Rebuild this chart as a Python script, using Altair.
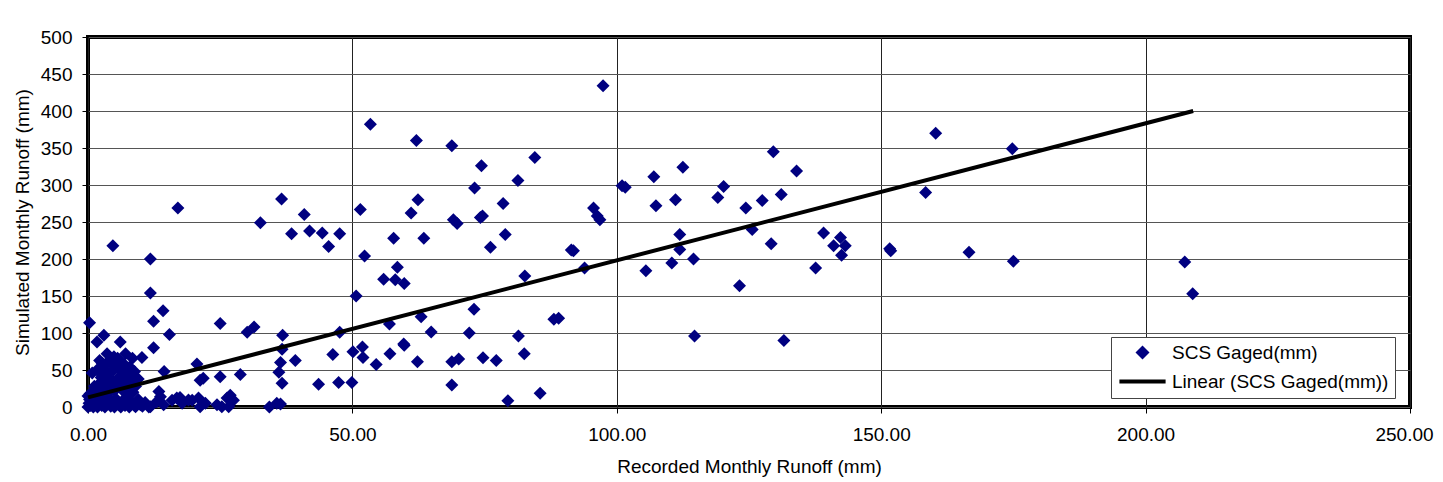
import altair as alt
import pandas as pd

# ---- data ----
rec_runoff = [
    0.0, 0.2, 0.3, 0.5, 0.8, 1.0, 1.2, 1.5, 1.8, 2.0, 2.3, 2.6, 3.0, 3.2, 3.6, 4.0, 4.3, 4.7, 5.0, 5.4,
    5.8, 6.2, 6.5, 7.0, 7.4, 7.8, 8.3, 8.8, 9.5, 10.3, 10.8, 11.5, 0.0, 0.4, 1.0, 1.6,
    1.2, 1.8, 2.2, 2.5, 2.9, 3.3, 3.5, 3.8, 4.2, 4.4, 4.8, 5.0, 5.5, 5.8, 6.0, 6.3, 6.6, 6.9, 7.2, 7.6,
    8.0, 8.5, 9.0, 2.2, 3.9, 4.5, 5.6, 6.8, 7.9, 3.0, 8.8, 9.5,
    0.3, 3.0, 1.7, 6.1, 4.7, 3.6, 2.7, 4.9, 7.1, 8.4, 1.7, 5.2, 7.4, 4.0, 6.5, 8.4, 2.7, 5.2, 7.7, 0.8, 0.5,
    10.2, 11.8, 11.8, 12.4, 14.2, 12.4, 15.4, 17.0, 14.4, 13.4, 15.9,
    9.0, 9.9, 11.8, 13.0, 14.3, 13.7, 16.8, 17.8, 19.7, 20.9, 21.2, 22.2, 24.4, 25.3, 26.3, 26.9, 27.5,
    26.6, 19.0, 17.4,
    20.6, 21.2, 21.8, 25.0, 28.8, 25.0, 30.1, 31.4, 34.3, 35.7,
    32.6, 36.6, 38.5, 40.9, 41.9, 44.3, 45.5, 47.6,
    36.8, 36.7, 36.4, 36.1, 36.7, 39.2, 43.6, 46.3, 47.6, 47.4, 49.9, 50.7, 51.5, 52.3, 53.4, 50.1, 51.9,
    52.0, 54.5, 55.9, 57.0, 57.1, 57.8, 58.5, 58.1, 59.8, 59.7, 36.4,
    97.4, 62.1, 68.8, 129.6, 112.5, 134.0, 74.4, 84.5, 107.0, 81.3, 73.1, 101.0, 101.6, 120.2, 119.1,
    62.4, 111.1, 127.5, 131.1, 107.4, 78.5, 124.4, 61.1, 95.6, 96.8, 96.3, 69.1, 69.8, 74.2, 74.6,
    63.5, 78.9, 76.1, 91.4, 91.8, 125.6, 111.9, 139.1, 142.3, 141.0, 143.2, 142.5, 151.6, 151.8,
    129.2, 111.9, 114.5, 93.9, 110.4, 105.5, 137.6, 123.2, 82.6, 73.0, 63.0, 64.9, 72.1, 81.4, 88.1,
    89.0, 114.7, 131.6, 59.8, 62.3, 68.8, 70.1, 74.7, 77.2, 82.5, 68.8, 85.5, 79.4,
    160.3, 174.8, 158.4, 166.6, 175.0, 207.4, 208.9,
]
sim_runoff = [
    0, 5, 10, 2, 8, 0, 12, 4, 0, 7, 14, 2, 9, 0, 5, 12, 1, 7, 0, 10,
    3, 0, 8, 2, 12, 0, 6, 2, 10, 1, 6, 0, 15, 18, 20, 17,
    28, 24, 32, 40, 22, 30, 44, 20, 26, 36, 50, 22, 38, 28, 60, 48, 30, 20, 40, 25,
    36, 20, 28, 63, 62, 58, 66, 58, 54, 52, 48, 38,
    114, 97, 88, 88, 218, 72, 59, 68, 72, 66, 50, 54, 52, 39, 43, 43, 34, 30, 32, 46, 14,
    67, 200, 154, 116, 130, 80, 98, 269, 48, 21, 9,
    0.4, 3, 0.4, 7, 3, 14, 12, 5, 9, 12, 0.4, 5, 3, 0.4, 12, 16, 9,
    0.4, 9.4, 13,
    58, 36, 39, 41, 44, 113, 101, 108, 0, 5,
    249, 281, 234, 260, 238, 235, 217, 234,
    97, 78, 60, 47, 32, 63, 30.6, 71, 101, 33, 33, 150, 267, 204, 382, 74.5, 81,
    67, 57.5, 172.5, 112, 72, 228, 189, 172, 167, 85, 4,
    434, 360, 353, 345, 324, 319, 326, 337, 311, 306, 296, 299, 297, 298, 283,
    280, 280, 279, 287, 272, 275, 269, 262, 269, 253, 258, 253, 248, 256, 258,
    228, 233, 216, 212, 211, 240, 233, 235, 229, 218, 218, 205, 214, 211,
    220.6, 213, 200, 188, 194.5, 184, 188, 164, 177, 132, 122, 101.5, 100, 96, 118.6,
    120, 96, 90, 83.5, 61, 61, 64.7, 66.4, 63, 72, 29.6, 18.5, 8.5,
    370, 349, 290, 209, 197, 196, 153,
]
trend_rec = [0.0, 209.0]
trend_sim = [13.0, 400.0]

series_names = ["SCS Gaged(mm)", "Linear (SCS Gaged(mm))"]
x_ticks = [0, 50, 100, 150, 200, 250]
y_ticks = [0, 50, 100, 150, 200, 250, 300, 350, 400, 450, 500]

pts = pd.DataFrame({"rec": rec_runoff, "sim": sim_runoff, "series": series_names[0]})
trend = pd.DataFrame({"rec": trend_rec, "sim": trend_sim, "series": series_names[1]})

FONT = "Liberation Sans"
diamond_path = "M0,-1L1,0L0,1L-1,0Z"
line_path = "M-3.3,-0.28L3.3,-0.28L3.3,0.28L-3.3,0.28Z"

x_axis = alt.Axis(
    values=x_ticks, tickCount=6, format=".2f", title="Recorded Monthly Runoff (mm)",
    labelOffset={"condition": {"test": "datum.value >= 250", "value": -6}, "value": 0},
    grid=True, gridColor="#222222", gridWidth=1,
    labelPadding=12, titlePadding=13, labelFlush=False, labelOverlap=False,
)
y_axis = alt.Axis(
    values=y_ticks, tickCount=11, format="d", title="Simulated Monthly Runoff (mm)",
    grid=True, gridColor="#555555", gridWidth=1,
    labelPadding=10, titlePadding=8, labelFlush=False, labelOverlap=False,
)
x_scale = alt.Scale(domain=[0, 250], nice=False, zero=True)
y_scale = alt.Scale(domain=[0, 500], nice=False)

color_scale = alt.Scale(domain=series_names, range=["#000080", "#000000"])
shape_scale = alt.Scale(domain=series_names, range=[diamond_path, line_path])

legend = alt.Legend(
    title=None, orient="none", legendX=1023, legendY=300,
    symbolSize=196, symbolStrokeWidth=0, symbolOffset=16, labelOffset=20,
    labelFont=FONT, labelFontSize=19, labelColor="black", labelLimit=0,
    fillColor="white", strokeColor="#444444", padding=6, rowPadding=9,
)

points = alt.Chart(pts).mark_point(filled=True, size=169, opacity=1).encode(
    x=alt.X("rec:Q", scale=x_scale, axis=x_axis),
    y=alt.Y("sim:Q", scale=y_scale, axis=y_axis),
    color=alt.Color("series:N", scale=color_scale, legend=legend),
    shape=alt.Shape("series:N", scale=shape_scale, legend=legend),
)

line = alt.Chart(trend).mark_line(strokeWidth=4, color="black").encode(
    x=alt.X("rec:Q", scale=x_scale, axis=x_axis),
    y=alt.Y("sim:Q", scale=y_scale, axis=y_axis),
    color=alt.Color("series:N", scale=color_scale, legend=None),
)

chart = (
    alt.layer(points, line)
    .properties(
        width=1322, height=370,
        padding={"left": 80, "top": 29, "right": 25, "bottom": 70},
        autosize=alt.AutoSizeParams(type="none"),
        background="white",
    )
    .configure_view(stroke="black", strokeWidth=4)
    .configure_axis(
        labelFont=FONT, labelFontSize=19, labelColor="black",
        titleFont=FONT, titleFontSize=19, titleFontWeight="normal", titleColor="black",
        domain=False, ticks=True, tickColor="black", tickSize=6, tickWidth=1,
    )
)

chart.save("out.html", embed_options={"renderer": "svg", "actions": False})
